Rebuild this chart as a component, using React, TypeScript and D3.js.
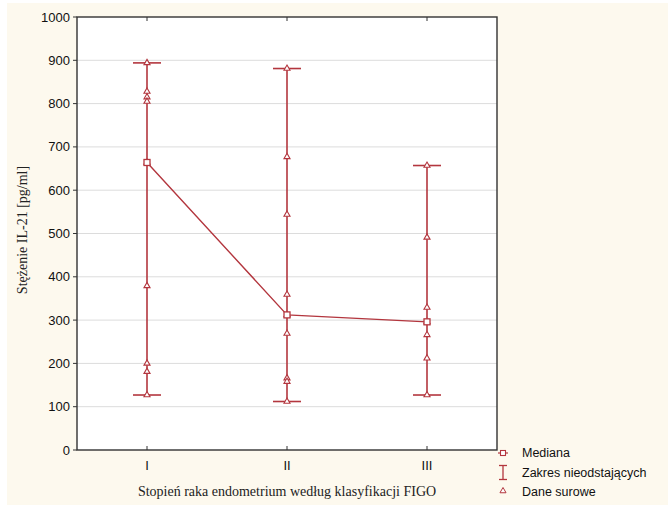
import React from "react";
import * as d3 from "d3";

const categories = ["I", "II", "III"];
const medians = [664, 312, 296];
const rangeMin = [127, 112, 127];
const rangeMax = [894, 881, 657];
const rawI = [894, 828, 815, 805, 664, 379, 200, 181, 127];
const rawII = [881, 677, 544, 359, 312, 269, 166, 158, 112];
const rawIII = [657, 491, 329, 296, 266, 212, 127];
const rawData = [rawI, rawII, rawIII];
const yTicks = [0, 100, 200, 300, 400, 500, 600, 700, 800, 900, 1000];
const legendItems = ["Mediana", "Zakres nieodstających", "Dane surowe"];

const W = 668, H = 505;
const left = 77, right = 497, top = 17, bottom = 450;
const RED = "#b3363e";

export default function App() {
  const x = d3.scaleBand().domain(categories).range([left, right]);
  const y = d3.scaleLinear().domain([0, 1000]).range([bottom, top]);
  const cx = (c: string) => (x(c) as number) + x.bandwidth() / 2;
  const line = d3.line<number>().x((_, i) => cx(categories[i])).y((d) => y(d));
  const tri = d3.symbol().type(d3.symbolTriangle).size(16);
  return (
    <svg width={W} height={H} style={{ position: "absolute", left: 0, top: 0 }}>
      <rect x={7} y={3} width={W - 7} height={H - 3} fill="#fdf9ee" />
      <rect x={left} y={top} width={right - left} height={bottom - top} fill="#ffffff" />
      {yTicks.slice(1, -1).map((t) => (
        <line key={t} x1={left} x2={right} y1={y(t)} y2={y(t)} stroke="#dcdcdc" strokeWidth={1} />
      ))}
      <rect x={left} y={top} width={right - left} height={bottom - top} fill="none" stroke="#333" strokeWidth={1.4} />
      {yTicks.map((t) => (
        <g key={t}>
          <line x1={left - 4} x2={left} y1={y(t)} y2={y(t)} stroke="#333" />
          <text x={left - 7} y={y(t)} dy="0.35em" textAnchor="end" fontFamily="Liberation Sans, Arial, sans-serif" fontSize={13} fill="#111">{t}</text>
        </g>
      ))}
      {categories.map((c) => (
        <g key={c}>
          <line x1={cx(c)} x2={cx(c)} y1={bottom} y2={bottom - 4} stroke="#333" />
          <line x1={cx(c)} x2={cx(c)} y1={top} y2={top + 4} stroke="#333" />
          <text x={cx(c)} y={465} dy="0.35em" textAnchor="middle" fontFamily="Liberation Sans, Arial, sans-serif" fontSize={13} fill="#111">{c}</text>
        </g>
      ))}
      {categories.map((c, i) => (
        <g key={c} stroke={RED} strokeWidth={1.6} fill="none">
          <line x1={cx(c)} x2={cx(c)} y1={y(rangeMin[i])} y2={y(rangeMax[i])} />
          <line x1={cx(c) - 14} x2={cx(c) + 14} y1={y(rangeMin[i])} y2={y(rangeMin[i])} />
          <line x1={cx(c) - 14} x2={cx(c) + 14} y1={y(rangeMax[i])} y2={y(rangeMax[i])} />
        </g>
      ))}
      <path d={line(medians) || ""} fill="none" stroke={RED} strokeWidth={1.4} />
      {categories.map((c, i) =>
        rawData[i].map((v, j) => (
          <path key={c + j} d={tri() || ""} transform={`translate(${cx(c)},${y(v)})`} fill="white" stroke={RED} strokeWidth={1.1} />
        ))
      )}
      {categories.map((c, i) => (
        <rect key={c} x={cx(c) - 3} y={y(medians[i]) - 3} width={6} height={6} fill="white" stroke={RED} strokeWidth={1.3} />
      ))}
      <text transform={`translate(22,230) rotate(-90)`} textAnchor="middle" dy="0.35em" fontFamily="Liberation Serif, Times New Roman, serif" fontSize={14} fill="#222">Stężenie IL-21 [pg/ml]</text>
      <text x={287} y={491} dy="0.35em" textAnchor="middle" fontFamily="Liberation Serif, Times New Roman, serif" fontSize={14} fill="#222">Stopień raka endometrium według klasyfikacji FIGO</text>
      {legendItems.map((t, i) => {
        const ly = 453 + i * 19.5;
        return (
          <g key={t}>
            {i === 0 && (
              <g stroke={RED} fill="white">
                <line x1={498} x2={508} y1={ly} y2={ly} strokeWidth={1.2} />
                <rect x={500.5} y={ly - 2.5} width={5} height={5} strokeWidth={1.1} />
              </g>
            )}
            {i === 1 && (
              <g stroke={RED} strokeWidth={1.3}>
                <line x1={503} x2={503} y1={ly - 7} y2={ly + 7} />
                <line x1={499} x2={507} y1={ly - 7} y2={ly - 7} />
                <line x1={499} x2={507} y1={ly + 7} y2={ly + 7} />
              </g>
            )}
            {i === 2 && (
              <path d={tri() || ""} transform={`translate(503,${ly - 1})`} fill="white" stroke={RED} strokeWidth={1} />
            )}
            <text x={522} y={ly} dy="0.35em" fontFamily="Liberation Sans, Arial, sans-serif" fontSize={12.5} fill="#111">{t}</text>
          </g>
        );
      })}
    </svg>
  );
}
